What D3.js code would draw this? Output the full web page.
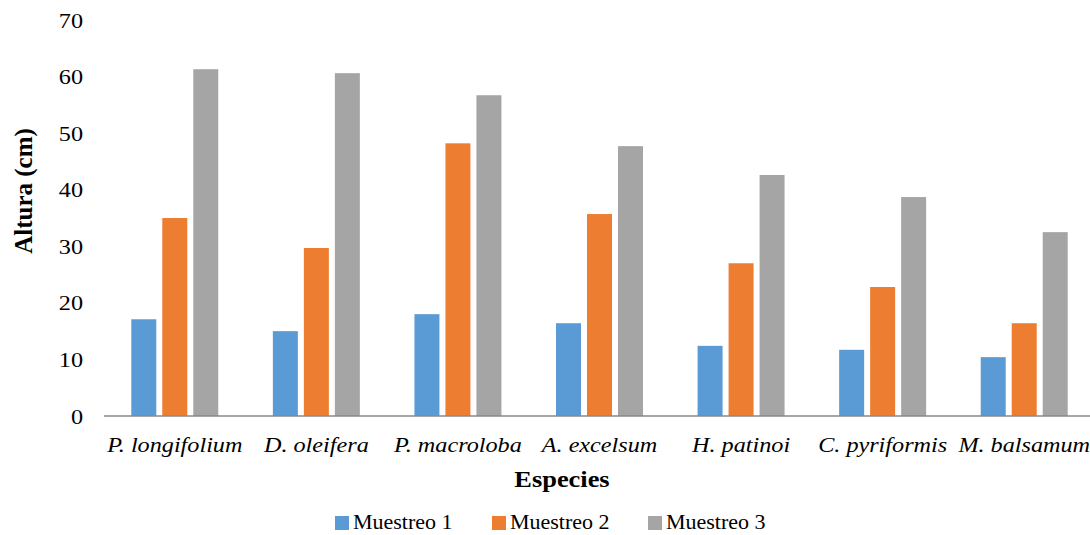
<!DOCTYPE html>
<html>
<head>
<meta charset="utf-8">
<script src="https://cdn.jsdelivr.net/npm/d3@7"></script>
<style>
  html, body { margin: 0; padding: 0; background: #fff; }
  svg text { font-family: "Liberation Serif", "Tinos", "Times New Roman", "DejaVu Serif", serif; }
</style>
</head>
<body>
<svg id="chart" width="1090" height="535"></svg>
<script>
// Species (x categories)
const species = ["P. longifolium", "D. oleifera", "P. macroloba", "A. excelsum", "H. patinoi", "C. pyriformis", "M. balsamum"];
// Sampling series
const seriesNames = ["Muestreo 1", "Muestreo 2", "Muestreo 3"];
// Height (cm) per sampling
const muestreo1 = [17.1, 15.0, 18.0, 16.4, 12.4, 11.7, 10.4];
const muestreo2 = [35.0, 29.7, 48.2, 35.7, 27.0, 22.8, 16.4];
const muestreo3 = [61.3, 60.6, 56.7, 47.7, 42.6, 38.7, 32.5];
const yTicks = [0, 10, 20, 30, 40, 50, 60, 70];

const colors = ["#5B9BD5", "#ED7D31", "#A5A5A5"];
const values = [muestreo1, muestreo2, muestreo3];

// Horizontal text stretch used throughout the chart
const STRETCH = 1.1;

const svg = d3.select("#chart");
const plotLeft = 104, plotRight = 1095, plotTop = 20, plotBottom = 416;

const x0 = d3.scaleBand().domain(species).range([plotLeft, plotRight]).paddingInner(0).paddingOuter(0);
const x1 = d3.scaleBand().domain(seriesNames).range([-46.5, 46.5]).paddingInner(0.194).paddingOuter(0.097);
const y = d3.scaleLinear().domain([0, 70]).range([plotBottom, plotTop]);

// Bars
seriesNames.forEach((s, si) => {
  svg.append("g").selectAll("rect")
    .data(species.map((sp, i) => ({ sp, v: values[si][i] })))
    .join("rect")
    .attr("x", d => x0(d.sp) + x0.bandwidth() / 2 + x1(s))
    .attr("y", d => y(d.v))
    .attr("width", x1.bandwidth())
    .attr("height", d => y(0) - y(d.v))
    .attr("fill", colors[si]);
});

// Y axis labels (no axis line)
const yAxis = d3.axisLeft(y).tickValues(yTicks).tickSize(0).tickPadding(0);
const gy = svg.append("g").attr("transform", "translate(83,0)").call(yAxis);
gy.attr("font-family", null);
gy.select(".domain").remove();
gy.selectAll("text")
  .attr("x", 0)
  .attr("font-size", 22)
  .attr("fill", "#000")
  .attr("transform", `scale(${STRETCH},1)`);

// X axis baseline and category labels
const xAxis = d3.axisBottom(x0).tickSize(0).tickPadding(0);
const gx = svg.append("g").attr("transform", `translate(0,${plotBottom})`).call(xAxis);
gx.attr("font-family", null);
gx.select(".domain").attr("stroke", "#898989").attr("stroke-width", 1.5)
  .attr("d", `M${plotLeft},0H1090`);
gx.selectAll("text")
  .attr("font-style", "italic")
  .attr("font-size", 22)
  .attr("fill", "#000")
  .attr("dy", null)
  .attr("y", 36)
  .attr("transform", `scale(${STRETCH},1)`);

// Axis titles
svg.append("text")
  .attr("transform", `translate(562,487) scale(${STRETCH},1)`)
  .attr("text-anchor", "middle")
  .attr("font-weight", "bold")
  .attr("font-size", 24)
  .text("Especies");

svg.append("text")
  .attr("transform", "translate(32,191) rotate(-90)")
  .attr("text-anchor", "middle")
  .attr("font-weight", "bold")
  .attr("font-size", 25)
  .text("Altura (cm)");

// Legend
const legendX = [335, 492, 648];
const legend = svg.append("g");
seriesNames.forEach((s, i) => {
  legend.append("rect")
    .attr("x", legendX[i]).attr("y", 516)
    .attr("width", 14).attr("height", 14)
    .attr("fill", colors[i]);
  legend.append("text")
    .attr("transform", `translate(${legendX[i] + 18},529) scale(${STRETCH},1)`)
    .attr("font-size", 20)
    .text(s);
});
</script>
</body>
</html>
